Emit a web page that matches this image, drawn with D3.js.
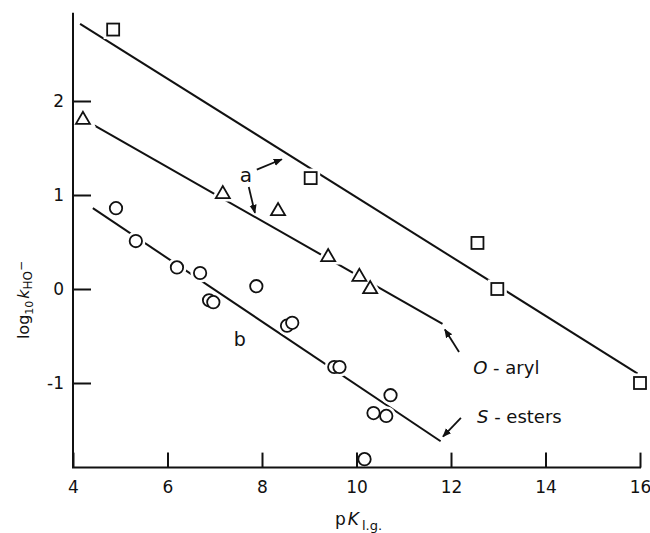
<!DOCTYPE html>
<html>
<head>
<meta charset="utf-8">
<script src="https://cdn.jsdelivr.net/npm/d3@7"></script>
<style>
body { margin:0; background:#fff; }
svg text { font-family: "DejaVu Sans", sans-serif; fill:#111; }
</style>
</head>
<body>
<script>
// data
var xTicks = [4, 6, 8, 10, 12, 14, 16];
var yTicks = [-1, 0, 1, 2];

var squareX = [4.85, 9.03, 12.56, 12.98, 16.0];
var squareY = [2.76, 1.18, 0.49, 0.0, -1.0];

var triangleX = [4.21, 7.17, 8.34, 9.40, 10.06, 10.29];
var triangleY = [1.81, 1.02, 0.84, 0.35, 0.14, 0.01];

var circleX = [4.91, 5.33, 6.20, 6.69, 6.88, 6.97, 7.88, 8.53, 8.64, 9.53, 9.64, 10.36, 10.63, 10.72, 10.17];
var circleY = [0.86, 0.51, 0.23, 0.17, -0.12, -0.14, 0.03, -0.39, -0.36, -0.83, -0.83, -1.32, -1.35, -1.13, -1.81];

// fitted lines (end points)
var lineSquares = [[4.15, 2.82], [15.95, -0.90]];
var lineTriangles = [[4.45, 1.74], [11.82, -0.37]];
var lineCircles = [[4.42, 0.86], [11.78, -1.62]];

var width = 650, height = 533;
var x0 = 73, x1 = 640;

var svg = d3.select("body").append("svg")
    .attr("width", width)
    .attr("height", height);

var x = d3.scaleLinear().domain([4, 16]).range([x0, x1]);
var y = d3.scaleLinear().domain([-1, 2]).range([383, 101]);
var yMin = -1.9, yMax = 2.94;

var line = d3.line().x(function(d){ return x(d[0]); }).y(function(d){ return y(d[1]); });

// fitted lines
[lineSquares, lineTriangles, lineCircles].forEach(function(l){
    svg.append("path")
        .attr("d", line(l))
        .attr("fill", "none")
        .attr("stroke", "#111")
        .attr("stroke-width", 2);
});

function pts(xs, ys){
    return xs.map(function(v, i){ return [v, ys[i]]; });
}

// markers, white halo breaks the line like in the print
function drawMarkers(data, shape){
    ["halo", "mark"].forEach(function(layer){
        var g = svg.append("g");
        var sel;
        if(shape == "circle"){
            sel = g.selectAll("circle").data(data).enter().append("circle")
                .attr("cx", function(d){ return x(d[0]); })
                .attr("cy", function(d){ return y(d[1]); })
                .attr("r", 6.2);
        } else if(shape == "square"){
            sel = g.selectAll("rect").data(data).enter().append("rect")
                .attr("x", function(d){ return x(d[0]) - 6; })
                .attr("y", function(d){ return y(d[1]) - 6; })
                .attr("width", 12)
                .attr("height", 12);
        } else {
            sel = g.selectAll("path").data(data).enter().append("path")
                .attr("d", function(d){
                    var cx = x(d[0]), cy = y(d[1]);
                    return "M" + (cx - 7) + "," + (cy + 5) + "L" + cx + "," + (cy - 7) + "L" + (cx + 7) + "," + (cy + 5) + "Z";
                });
        }
        if(layer == "halo")
            sel.attr("fill", "#fff").attr("stroke", "#fff").attr("stroke-width", 7);
        else
            sel.attr("fill", "#fff").attr("stroke", "#111").attr("stroke-width", 1.8);
    });
}

drawMarkers(pts(squareX, squareY), "square");
drawMarkers(pts(triangleX, triangleY), "triangle");
drawMarkers(pts(circleX, circleY), "circle");

// axes
var xAxis = svg.append("g")
    .attr("transform", "translate(0," + y(yMin) + ")")
    .call(d3.axisBottom(x).tickValues(xTicks).tickSize(-15).tickSizeOuter(0).tickPadding(13));
var yAxis = svg.append("g")
    .attr("transform", "translate(" + x0 + ",0)")
    .call(d3.axisLeft(y).tickValues(yTicks).tickSize(-18).tickSizeOuter(0).tickPadding(9)
        .tickFormat(function(d){ return d < 0 ? "-" + Math.abs(d) : d; }));

[xAxis, yAxis].forEach(function(a){
    a.select(".domain").remove();
    a.selectAll(".tick line").attr("stroke", "#111").attr("stroke-width", 2);
    a.selectAll(".tick text").style("font-size", "17px").attr("fill", "#111");
});

svg.append("path")
    .attr("d", "M" + x0 + "," + y(yMax) + "V" + y(yMin) + "H" + (x1 + 1))
    .attr("fill", "none")
    .attr("stroke", "#111")
    .attr("stroke-width", 2);

// axis titles
var xt = svg.append("text")
    .attr("x", 335)
    .attr("y", 525)
    .style("font-size", "17px");
xt.append("tspan").text("p");
xt.append("tspan").attr("font-style", "italic").attr("dx", 2).text("K");
xt.append("tspan").attr("dy", 5).style("font-size", "13px").attr("dx", 3).text("l.g.");

var yt = svg.append("text")
    .attr("transform", "translate(29,300) rotate(-90)")
    .attr("text-anchor", "middle")
    .style("font-size", "16px");
yt.append("tspan").text("log");
yt.append("tspan").attr("dy", 4).style("font-size", "11px").text("10");
yt.append("tspan").attr("dy", -4).attr("dx", 2).attr("font-style", "italic").text("k");
yt.append("tspan").attr("dy", 3).style("font-size", "12px").text("HO");
yt.append("tspan").attr("dy", -7).style("font-size", "12px").text("−");

// annotations
var arrows = [
    [[7.89, 1.27], [8.42, 1.38]],
    [[7.72, 1.085], [7.85, 0.81]],
    [[12.17, -0.67], [11.87, -0.43]],
    [[12.21, -1.37], [11.83, -1.57]]
];

svg.append("defs").append("marker")
    .attr("id", "head")
    .attr("viewBox", "0 0 10 10")
    .attr("refX", 9).attr("refY", 5)
    .attr("markerWidth", 5).attr("markerHeight", 5)
    .attr("orient", "auto")
    .append("path")
    .attr("d", "M0,1L10,5L0,9Z")
    .attr("fill", "#111");

arrows.forEach(function(a){
    svg.append("path")
        .attr("d", line(a))
        .attr("stroke", "#111")
        .attr("stroke-width", 1.8)
        .attr("marker-end", "url(#head)");
});

svg.append("text").attr("x", x(7.66)).attr("y", y(1.14)).attr("text-anchor", "middle")
    .style("font-size", "20px").text("a");
svg.append("text").attr("x", x(7.53)).attr("y", y(-0.61)).attr("text-anchor", "middle")
    .style("font-size", "19px").text("b");

var oa = svg.append("text").attr("x", x(12.47)).attr("y", y(-0.90)).style("font-size", "18px");
oa.append("tspan").attr("font-style", "italic").text("O");
oa.append("tspan").text(" - aryl");

var se = svg.append("text").attr("x", x(12.55)).attr("y", y(-1.43)).style("font-size", "18px");
se.append("tspan").attr("font-style", "italic").text("S");
se.append("tspan").text(" - esters");
</script>
</body>
</html>
